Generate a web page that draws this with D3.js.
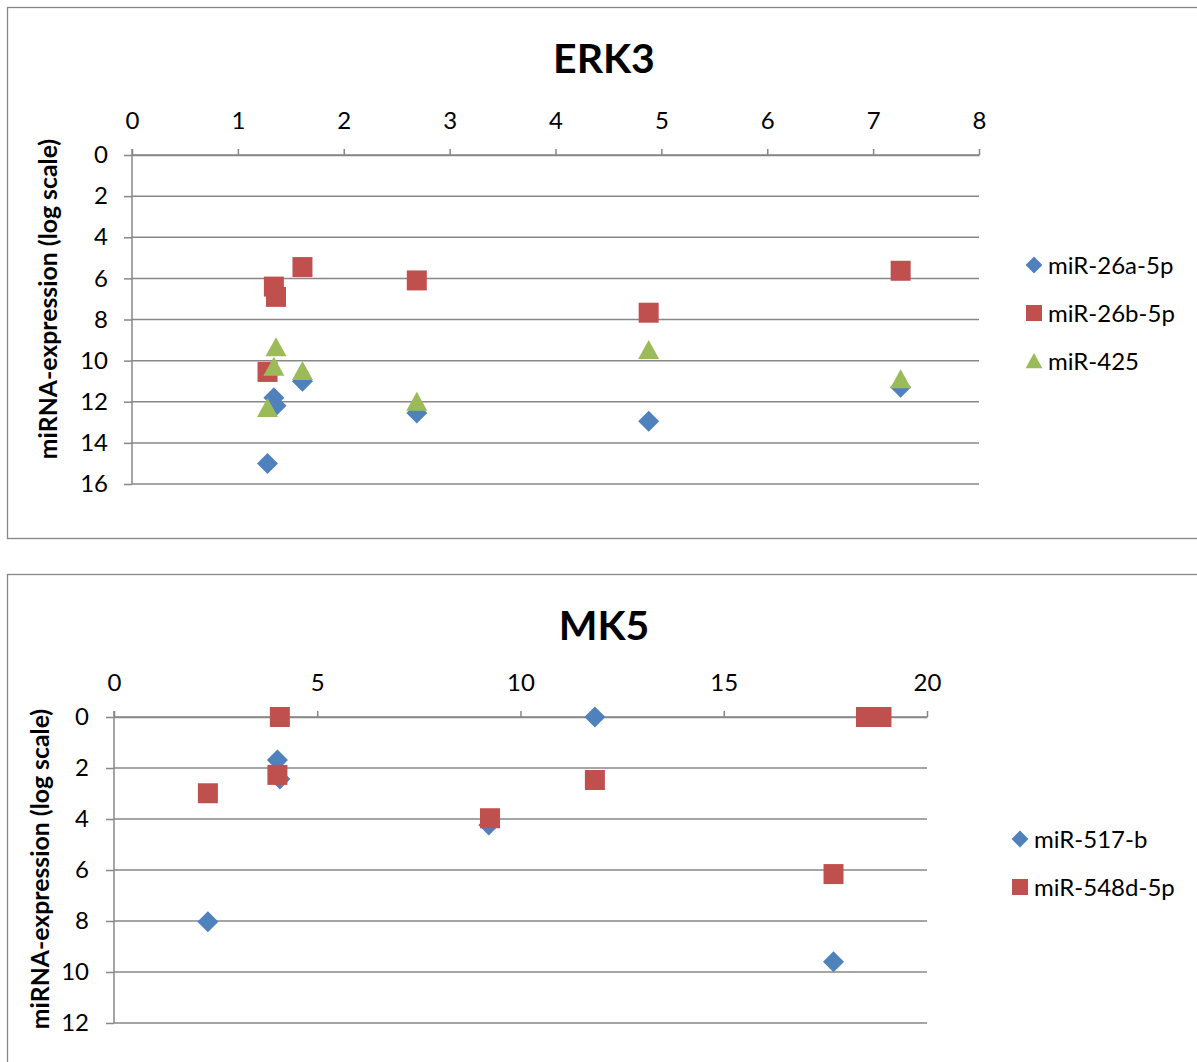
<!DOCTYPE html>
<html>
<head>
<meta charset="utf-8">
<script src="https://cdn.jsdelivr.net/npm/d3@7"></script>
<style>
body { margin:0; background:#fff; }
svg text { font-family: Lato, "Open Sans", sans-serif; fill:#000; }
</style>
</head>
<body>
<svg id="viz" width="1197" height="1062"></svg>
<script>
// ERK3 panel
const erkX = [1.28, 1.34, 1.36, 1.61, 2.69, 4.88, 7.26];
const mir26a = [15.0, 11.8, 12.2, 11.0, 12.55, 12.95, 11.3];
const mir26b = [10.55, 6.4, 6.9, 5.45, 6.1, 7.67, 5.63];
const mir425 = [12.3, 10.3, 9.35, 10.5, 12.0, 9.48, 10.9];
const erkXTicks = [0,1,2,3,4,5,6,7,8];
const erkYTicks = [0,2,4,6,8,10,12,14,16];

// MK5 panel
const mk517X = [2.31, 4.02, 4.08, 9.22, 11.83, 17.7];
const mir517b = [8.03, 1.69, 2.43, 4.24, 0, 9.6];
const mk548X = [2.31, 4.02, 4.08, 9.25, 11.83, 17.7, 18.5, 18.88];
const mir548d = [2.99, 2.27, 0, 3.97, 2.47, 6.16, 0, 0];
const mkXTicks = [0,5,10,15,20];
const mkYTicks = [0,2,4,6,8,10,12];

const BLUE = "#4f81bd", RED = "#c0504d", GREEN = "#9bbb59", GRID = "#878787";

const svg = d3.select("#viz");

function shapePath(kind){
    if(kind === "diamond") return "M0,-10.5L10.5,0L0,10.5L-10.5,0Z";
    if(kind === "square") return "M-10,-10H10V10H-10Z";
    return "M0,-10L10.5,9L-10.5,9Z";
}

function panel(cfg){
    const g = svg.append("g");
    g.append("rect")
        .attr("x",7.5).attr("y",cfg.frameTop+0.5)
        .attr("width",1205).attr("height",cfg.frameH)
        .attr("fill","none").attr("stroke",GRID).attr("stroke-width",1.3);

    const x = d3.scaleLinear().domain(cfg.xDomain).range([cfg.left,cfg.right]);
    const y = d3.scaleLinear().domain(cfg.yDomain).range([cfg.top,cfg.bottom]);

    // horizontal gridlines
    g.append("g").selectAll("line").data(cfg.yTicks).join("line")
        .attr("x1",cfg.left).attr("x2",cfg.right)
        .attr("y1",d=>y(d)).attr("y2",d=>y(d))
        .attr("stroke",GRID).attr("stroke-width",1.5);

    const ya = g.append("g").attr("transform",`translate(${cfg.left},0)`)
        .call(d3.axisLeft(y).tickValues(cfg.yTicks).tickSize(8).tickSizeOuter(0).tickPadding(cfg.yPad));
    const xa = g.append("g").attr("transform",`translate(0,${cfg.top})`)
        .call(d3.axisTop(x).tickValues(cfg.xTicks).tickSize(6).tickSizeOuter(0).tickPadding(20));
    [ya,xa].forEach(a=>{
        a.selectAll("line").attr("stroke",GRID).attr("stroke-width",1.5);
        a.select(".domain").attr("stroke",GRID).attr("stroke-width",1.5);
        a.selectAll("text").attr("font-size",24).attr("font-family","Lato, 'Open Sans', sans-serif");
    });
    ya.select(".domain").attr("d",`M0,${cfg.top-6}V${cfg.bottom}`);

    g.append("text").attr("x",604).attr("y",cfg.titleY)
        .attr("text-anchor","middle").attr("font-size",41).attr("font-weight","bold")
        .text(cfg.title);
    g.append("text")
        .attr("transform",`translate(${cfg.yTitleX},${cfg.yTitleY}) rotate(-90)`)
        .attr("text-anchor","middle").attr("dominant-baseline","central")
        .attr("font-size",24.8).attr("font-weight","bold")
        .text("miRNA-expression (log scale)");

    cfg.series.forEach(s=>{
        g.append("g").selectAll("path").data(s.ys).join("path")
            .attr("d",shapePath(s.shape))
            .attr("transform",(d,i)=>`translate(${x(s.xs[i])},${y(d)})`)
            .attr("fill",s.color);
    });

    cfg.series.forEach((s,i)=>{
        const ly = cfg.legendY + i*48;
        g.append("path").attr("d",shapePath(s.shape))
            .attr("transform",`translate(${cfg.legendX},${ly}) scale(0.8)`)
            .attr("fill",s.color);
        g.append("text").attr("x",cfg.legendX+14).attr("y",ly-1)
            .attr("dominant-baseline","central").attr("font-size",24)
            .text(s.name);
    });
}

panel({
    title:"ERK3", titleY:73, frameTop:7, frameH:531,
    left:132, right:979, top:155, bottom:484,
    xDomain:[0,8], yDomain:[0,16], xTicks:erkXTicks, yTicks:erkYTicks,
    yPad:16, yTitleX:47, yTitleY:299, legendX:1034, legendY:265,
    series:[
        {name:"miR-26a-5p", xs:erkX, ys:mir26a, color:BLUE, shape:"diamond"},
        {name:"miR-26b-5p", xs:erkX, ys:mir26b, color:RED, shape:"square"},
        {name:"miR-425", xs:erkX, ys:mir425, color:GREEN, shape:"triangle"}
    ]
});

panel({
    title:"MK5", titleY:640, frameTop:574, frameH:520,
    left:114, right:927, top:717, bottom:1023,
    xDomain:[0,20], yDomain:[0,12], xTicks:mkXTicks, yTicks:mkYTicks,
    yPad:17, yTitleX:39, yTitleY:869, legendX:1020, legendY:839,
    series:[
        {name:"miR-517-b", xs:mk517X, ys:mir517b, color:BLUE, shape:"diamond"},
        {name:"miR-548d-5p", xs:mk548X, ys:mir548d, color:RED, shape:"square"}
    ]
});
</script>
</body>
</html>
